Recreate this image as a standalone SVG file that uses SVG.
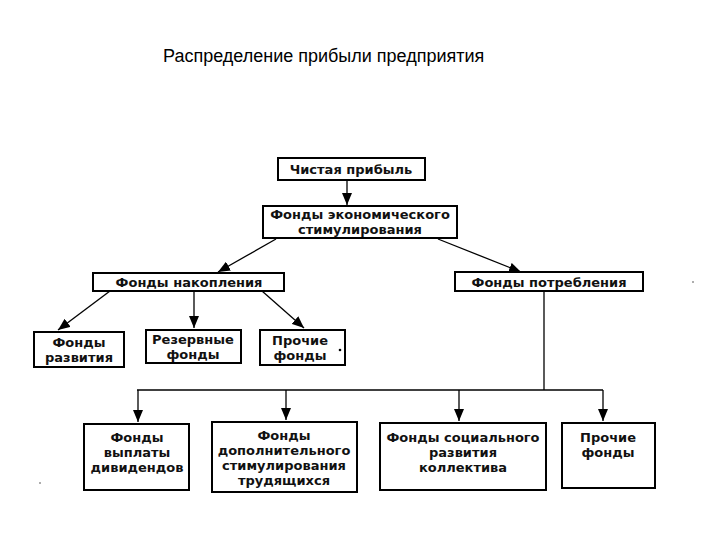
<svg xmlns="http://www.w3.org/2000/svg" width="720" height="540" viewBox="0 0 720 540">
<style>
.box{fill:#fff;stroke:#000;stroke-width:2}
.t{font-family:"DejaVu Sans","Liberation Sans",Arial,sans-serif;font-size:13px;font-weight:bold;fill:#111;text-anchor:middle}
.title{font-family:"Liberation Sans",Arial,sans-serif;font-size:18px;fill:#000}
.c{fill:none;stroke:#000;stroke-width:1.3}
</style>
<defs>
<marker id="ah" viewBox="0 0 12 10" refX="12" refY="5" markerWidth="12" markerHeight="10" markerUnits="userSpaceOnUse" orient="auto">
<path d="M0,0 L12,5 L0,10 Z" fill="#000"/>
</marker>
</defs>
<rect width="720" height="540" fill="#fff"/>
<text class="title" x="163" y="62">Распределение прибыли предприятия</text>

<g id="connectors">
<line class="c" x1="347" y1="181" x2="347" y2="205" marker-end="url(#ah)"/>
<line class="c" x1="276" y1="239" x2="218" y2="272" marker-end="url(#ah)"/>
<line class="c" x1="438" y1="239" x2="521" y2="272" marker-end="url(#ah)"/>
<line class="c" x1="110" y1="291" x2="58" y2="330" marker-end="url(#ah)"/>
<line class="c" x1="194" y1="291" x2="194" y2="328" marker-end="url(#ah)"/>
<line class="c" x1="262" y1="291" x2="304" y2="328" marker-end="url(#ah)"/>
<polyline class="c" points="544,291 544,390"/>
<line class="c" x1="137" y1="390" x2="603" y2="390"/>
<line class="c" x1="138" y1="390" x2="138" y2="422" marker-end="url(#ah)"/>
<line class="c" x1="286" y1="390" x2="286" y2="420" marker-end="url(#ah)"/>
<line class="c" x1="459" y1="390" x2="459" y2="421" marker-end="url(#ah)"/>
<line class="c" x1="603" y1="390" x2="603" y2="421" marker-end="url(#ah)"/>
</g>

<g id="n-profit"><rect class="box" x="278" y="158" width="147" height="22"/><text class="t" x="351" y="174">Чистая прибыль</text></g>
<g id="n-econ"><rect class="box" x="263" y="206" width="194" height="32"/><text class="t" x="360" y="219">Фонды экономического</text><text class="t" x="360" y="234">стимулирования</text></g>
<g id="n-accum"><rect class="box" x="93" y="273" width="191" height="18"/><text class="t" x="189" y="287">Фонды накопления</text></g>
<g id="n-consum"><rect class="box" x="455" y="272" width="188" height="19"/><text class="t" x="549" y="287">Фонды потребления</text></g>
<g id="n-dev"><rect class="box" x="34" y="332" width="90" height="35"/><text class="t" x="79" y="347">Фонды</text><text class="t" x="79" y="362">развития</text></g>
<g id="n-reserve"><rect class="box" x="146" y="330" width="95" height="33"/><text class="t" x="193" y="344">Резервные</text><text class="t" x="193" y="359">фонды</text></g>
<g id="n-other1"><rect class="box" x="260" y="330" width="85" height="35"/><text class="t" x="300" y="345">Прочие</text><text class="t" x="300" y="360">фонды</text><circle cx="340" cy="350" r="1.3" fill="#000"/></g>
<g id="n-div"><rect class="box" x="84" y="424" width="105" height="66"/><text class="t" x="137" y="442">Фонды</text><text class="t" x="137" y="457">выплаты</text><text class="t" x="137" y="472">дивидендов</text></g>
<g id="n-extra"><rect class="box" x="212" y="422" width="145" height="70"/><text class="t" x="284" y="440">Фонды</text><text class="t" x="284" y="455">дополнительного</text><text class="t" x="284" y="470">стимулирования</text><text class="t" x="284" y="485">трудящихся</text></g>
<g id="n-social"><rect class="box" x="380" y="423" width="166" height="67"/><text class="t" x="463" y="442">Фонды социального</text><text class="t" x="463" y="457">развития</text><text class="t" x="463" y="472">коллектива</text></g>
<g id="n-other2"><rect class="box" x="562" y="423" width="93" height="65"/><text class="t" x="608" y="442">Прочие</text><text class="t" x="608" y="457">фонды</text></g>
<circle cx="693" cy="282" r="0.8" fill="#444"/>
<circle cx="40" cy="483" r="0.8" fill="#444"/>
</svg>
